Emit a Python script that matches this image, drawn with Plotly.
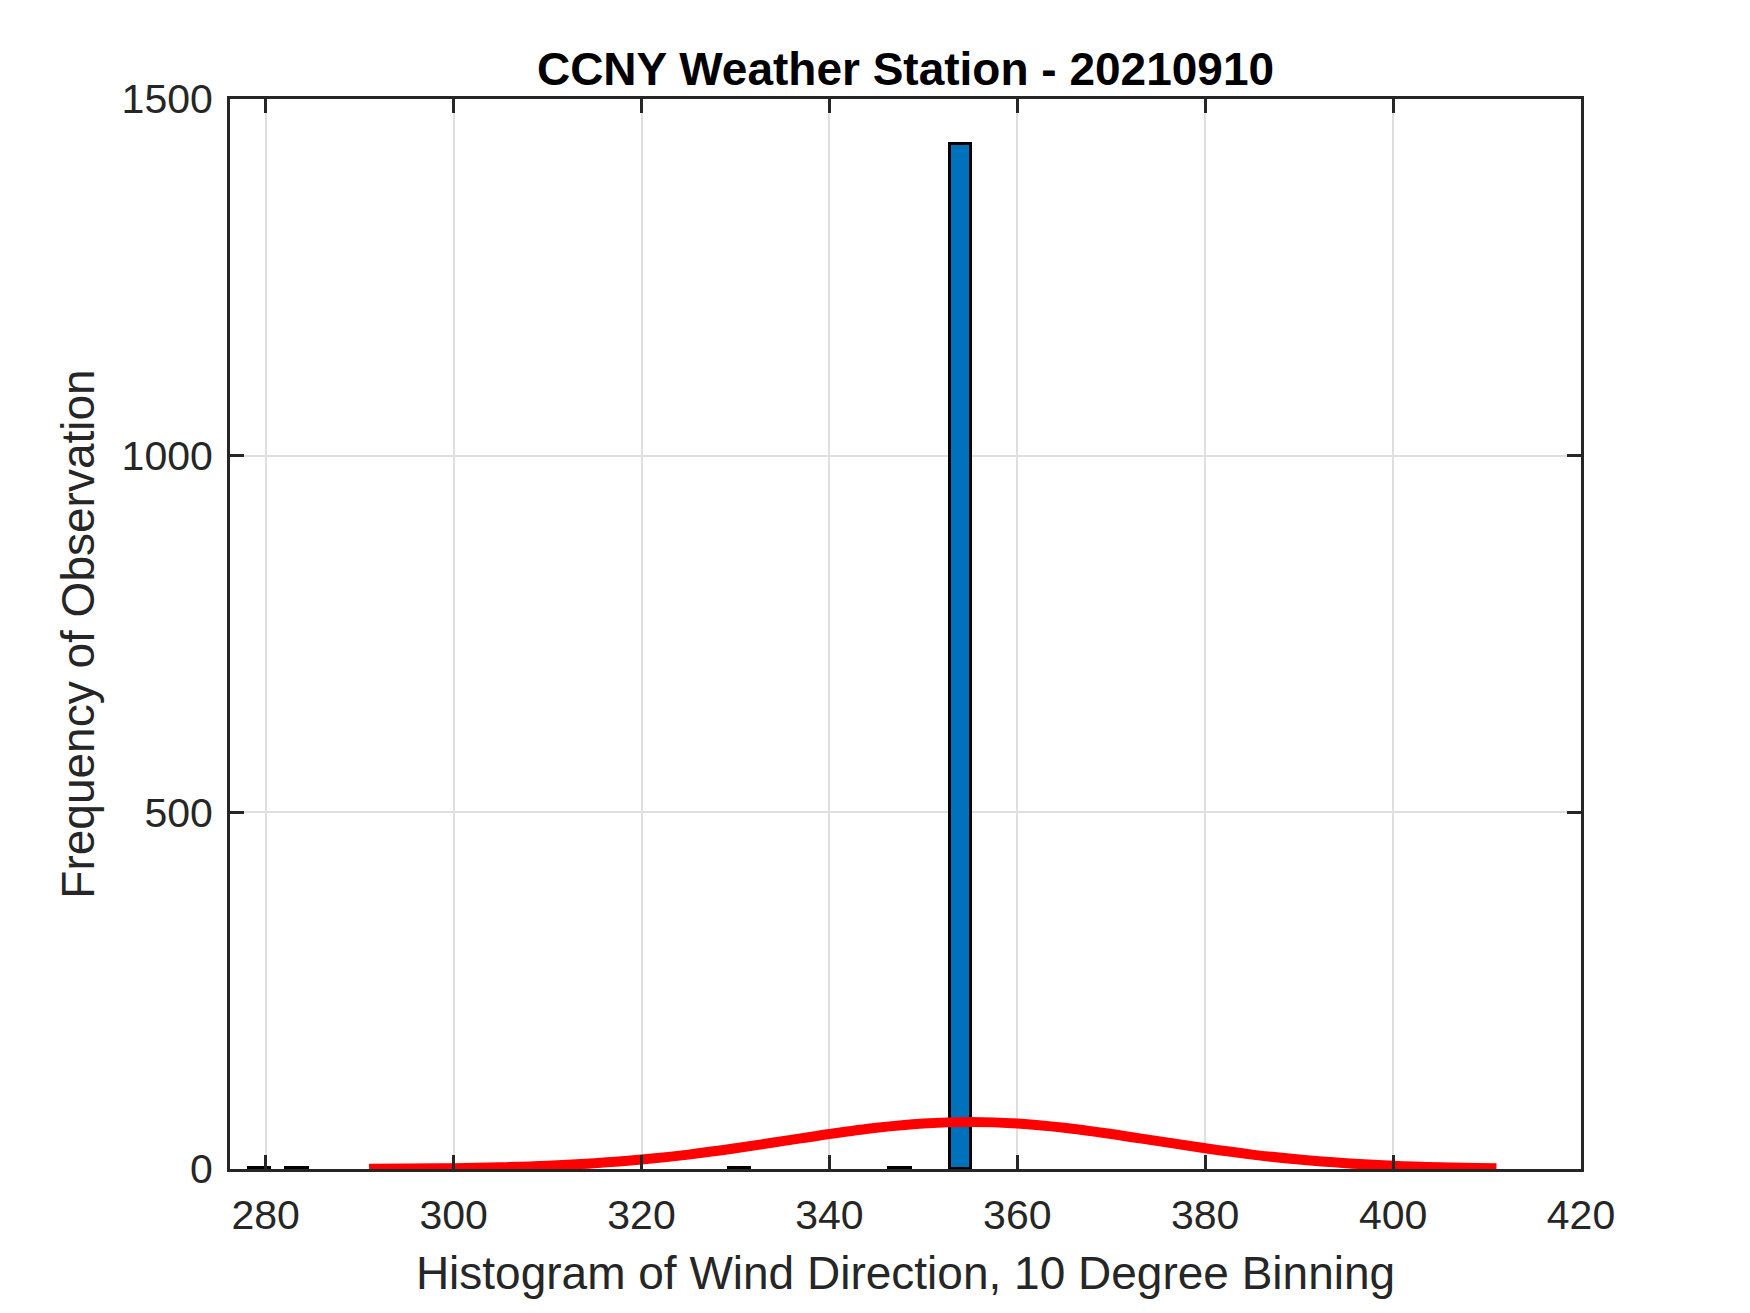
import plotly.graph_objects as go

# ---- data ----
bin_centers = [279.35, 283.35, 330.45, 347.5, 353.95]
bin_counts = [1, 1, 1, 1, 1437]
BIN_WIDTH = 2.3

fit_x = [291, 295, 300, 305, 310, 315, 320, 325, 330, 335, 340, 345, 350,
         355, 360, 365, 370, 375, 380, 385, 390, 395, 400, 405, 411]
fit_y = [0.3, 0.6, 1.2, 2.5, 4.6, 8.1, 13.2, 20.2, 29.0, 39.0, 49.1, 57.9, 63.9,
         66.0, 63.9, 57.9, 49.1, 39.0, 29.0, 20.2, 13.2, 8.1, 4.6, 2.5, 1.1]

x_ticks = [280, 300, 320, 340, 360, 380, 400, 420]
y_ticks = [0, 500, 1000, 1500]

title_text = "CCNY Weather Station - 20210910"
x_title = "Histogram of Wind Direction, 10 Degree Binning"
y_title = "Frequency of Observation"

# ---- figure ----
W, H = 1750, 1313
ML, MR, MT, MB = 222, 177, 91, 152
AX = "#262626"
FONT = "Liberation Sans, Arial, Helvetica, sans-serif"

fig = go.Figure()
fig.add_trace(go.Bar(
    x=bin_centers, y=bin_counts, width=[BIN_WIDTH] * len(bin_centers),
    marker=dict(color="#0072BD", line=dict(color="#000000", width=3)),
    hoverinfo="x+y", showlegend=False,
))
fig.add_trace(go.Scatter(
    x=fit_x, y=fit_y, mode="lines", line=dict(color="#FF0000", width=10, shape="spline"),
    showlegend=False,
))

axis_common = dict(
    showline=True, linecolor=AX, linewidth=3, mirror="ticks",
    ticks="inside", ticklen=14, tickwidth=3, tickcolor=AX,
    showgrid=True, gridcolor="#dfdfdf", gridwidth=2,
    zeroline=False,
    tickfont=dict(family=FONT, size=41, color=AX),
)

fig.update_layout(
    width=W, height=H,
    margin=dict(l=ML, r=MR, t=MT, b=MB, pad=0),
    paper_bgcolor="white", plot_bgcolor="white",
    bargap=0,
    title=dict(text="<b>" + title_text + "</b>", x=(ML + 0.5 * (W - ML - MR)) / W, xanchor="center",
               y=1 - 61 / H, yanchor="middle", yref="container",
               font=dict(family=FONT, size=46, color="#000000")),
    xaxis=dict(range=[276.2, 420], tickvals=x_ticks, ticktext=[str(v) for v in x_ticks],
               title=dict(text=x_title, font=dict(family=FONT, size=46, color=AX), standoff=20),
               ticklabelstandoff=8, **axis_common),
    yaxis=dict(range=[0, 1500], tickvals=y_ticks, ticktext=[str(v) for v in y_ticks],
               title=dict(text=y_title, font=dict(family=FONT, size=46, color=AX), standoff=13),
               ticklabelstandoff=6, **axis_common),
    font=dict(family=FONT, color=AX),
)

fig.write_html("out.html")
